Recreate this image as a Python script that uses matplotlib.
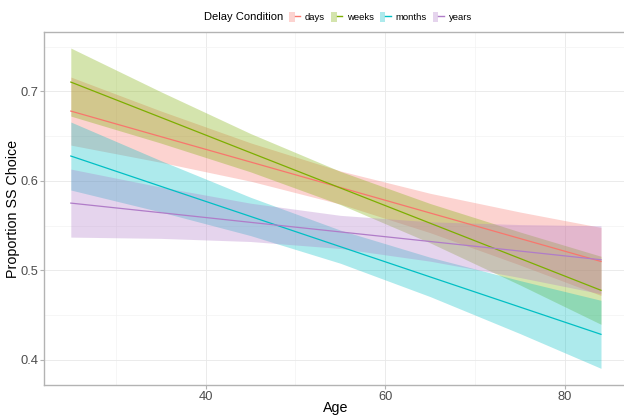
import matplotlib
matplotlib.use("Agg")
import matplotlib.pyplot as plt
from matplotlib.patches import Patch
from matplotlib.lines import Line2D
from matplotlib.legend_handler import HandlerTuple
from matplotlib.ticker import MultipleLocator

plt.rcParams['font.family'] = ['Liberation Sans', 'DejaVu Sans']

# ---- data ----
conditions = ["days", "weeks", "months", "years"]
colors = ["#F8766D", "#7CAE00", "#00BFC4", "#B07CC8"]

ages = [25, 35, 45, 55, 65, 75, 84]

days_fit = [0.6780, 0.6495, 0.6211, 0.5926, 0.5641, 0.5356, 0.5100]
days_lo = [0.6400, 0.6208, 0.5997, 0.5741, 0.5421, 0.5060, 0.4720]
days_hi = [0.7160, 0.6782, 0.6425, 0.6111, 0.5861, 0.5652, 0.5480]

weeks_fit = [0.7104, 0.6710, 0.6315, 0.5921, 0.5527, 0.5133, 0.4778]
weeks_lo = [0.6724, 0.6423, 0.6101, 0.5736, 0.5307, 0.4837, 0.4398]
weeks_hi = [0.7484, 0.6997, 0.6529, 0.6106, 0.5747, 0.5429, 0.5158]

months_fit = [0.6278, 0.5940, 0.5603, 0.5265, 0.4927, 0.4590, 0.4286]
months_lo = [0.5898, 0.5653, 0.5389, 0.5080, 0.4707, 0.4294, 0.3906]
months_hi = [0.6658, 0.6227, 0.5817, 0.5450, 0.5147, 0.4886, 0.4666]

years_fit = [0.5752, 0.5645, 0.5537, 0.5430, 0.5323, 0.5216, 0.5119]
years_lo = [0.5372, 0.5358, 0.5323, 0.5245, 0.5103, 0.4920, 0.4739]
years_hi = [0.6132, 0.5932, 0.5751, 0.5615, 0.5543, 0.5512, 0.5499]

fits = [days_fit, weeks_fit, months_fit, years_fit]
lows = [days_lo, weeks_lo, months_lo, years_lo]
highs = [days_hi, weeks_hi, months_hi, years_hi]

x_ticks = [40, 60, 80]
y_ticks = [0.4, 0.5, 0.6, 0.7]

# ---- figure ----
fig = plt.figure(figsize=(6.24, 4.16), dpi=100)
ax = fig.add_axes([44.3 / 624, 31 / 416, (627.5 - 44.3) / 624, (385 - 32.3) / 416])

band_alpha = 0.32
for fit, lo, hi, col in zip(fits, lows, highs, colors):
    ax.fill_between(ages, lo, hi, color=col, alpha=band_alpha, linewidth=0, zorder=2)
for fit, col in zip(fits, colors):
    ax.plot(ages, fit, color=col, lw=0.9, zorder=3)

ax.set_xlim(22.05, 86.95)
ax.set_ylim(0.372, 0.766)
ax.set_xticks(x_ticks)
ax.set_yticks(y_ticks)
ax.xaxis.set_minor_locator(MultipleLocator(10))
ax.yaxis.set_minor_locator(MultipleLocator(0.05))
ax.set_xticklabels([str(v) for v in x_ticks])
ax.set_yticklabels([f"{v:.1f}" for v in y_ticks])

ax.grid(which='major', color='#E8E8E8', lw=0.6, zorder=0)
ax.grid(which='minor', color='#F3F3F3', lw=0.5, zorder=0)
ax.set_axisbelow(True)
for s in ax.spines.values():
    s.set_color('#B3B3B3')
    s.set_linewidth(1.0)
ax.tick_params(which='major', length=3, width=0.8, color='#B3B3B3',
               labelsize=9.3, labelcolor='#4D4D4D', pad=1.5)
ax.tick_params(which='minor', length=0)

ax.set_xlabel("Age", fontsize=10.3, labelpad=-1.5)
ax.set_ylabel("Proportion SS Choice", fontsize=10.3, labelpad=0)

# legend
handles = [(Patch(facecolor=c, alpha=band_alpha, edgecolor='none'),
            Line2D([], [], color=c, lw=1.0)) for c in colors]
fig.text(204 / 624, 1 - 17 / 416, "Delay Condition", fontsize=8,
         ha='left', va='center')
fig.legend(handles, conditions, loc='center left',
           bbox_to_anchor=(289 / 624, 1 - 17 / 416), ncol=4, frameon=False,
           fontsize=6.8, handlelength=1.2, handleheight=1.2, handletextpad=0.5,
           columnspacing=0.6, borderpad=0, borderaxespad=0,
           handler_map={tuple: HandlerTuple(ndivide=None)})

fig.savefig("out.png", dpi=100)
